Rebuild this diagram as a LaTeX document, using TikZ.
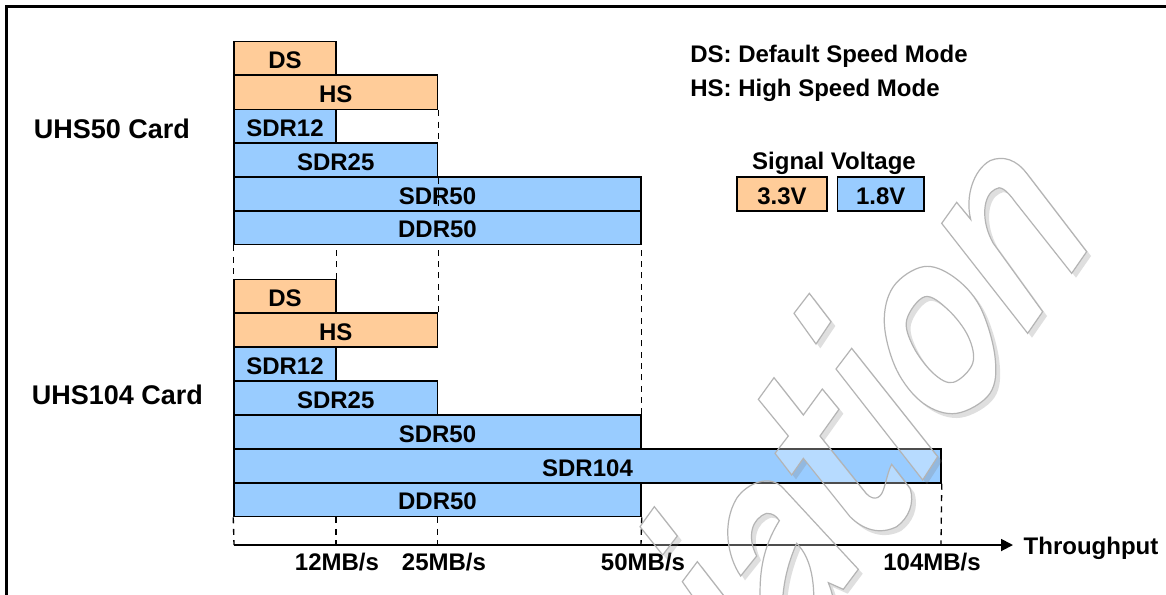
\documentclass[tikz,border=0pt]{standalone}
\usepackage{fontspec}
\setmainfont{Liberation Sans}
\usetikzlibrary{arrows.meta}
\definecolor{orangebar}{HTML}{FFCC99}
\definecolor{bluebar}{HTML}{99CCFF}
\definecolor{wmline}{HTML}{B4B4B4}
\tikzset{
  label18/.style={inner sep=0pt,text height=12.9pt,text depth=0pt,font=\bfseries\fontsize{18}{20}\selectfont,text=black},
  label20/.style={inner sep=0pt,text height=14.4pt,text depth=0pt,font=\bfseries\fontsize{20.25}{22}\selectfont,text=black},
  barbox/.style={draw=black,line width=1.1pt,inner sep=0pt,text height=15.1pt,text depth=0pt,font=\bfseries\fontsize{18}{20}\selectfont,text=black},
  orangebox/.style={barbox,fill=orangebar},
  bluebox/.style={barbox,fill=bluebar},
  dashline/.style={draw=black,line width=1pt,dash pattern=on 4.5pt off 4pt},
  axisline/.style={draw=black,line width=1.4pt,-{Triangle[length=9pt,width=9pt]}},
  framing/.style={draw=black,line width=1.6pt},
}
\newcommand{\barnode}[7]{\node[#1,minimum width={(#4-#3)*0.75pt},minimum height={(#6-#5)*0.75pt}] (#2) at ({(#3+#4)/2},{(#5+#6)/2}) {#7};}
\def\wmshape{
  (905,280) -- (950,217) -- (992,268) .. controls (975,200) and (1000,120) .. (1050,92) .. controls (1090,75) and (1130,90) .. (1160,130) -- (1340,365) -- (1295,430) -- (1125,215) .. controls (1100,180) and (1080,165) .. (1065,178) .. controls (1030,195) and (1020,270) .. (1060,340) -- (1208,545) -- (1163,610) -- cycle
  plot[smooth cycle,tension=.6] coordinates {(733,580) (760,470) (850,410) (940,440) (1020,530) (1065,680) (1050,790) (950,850) (850,820) (770,720)}
  plot[smooth cycle,tension=.6] coordinates {(800,570) (855,500) (925,540) (985,620) (998,700) (940,757) (880,730) (820,650)}
  (462,550) -- (508,490) -- (573,575) -- (528,642) -- cycle
  (588,717) -- (635,655) -- (893,980) -- (848,1050) -- cycle
  (355,808) -- (402,743) -- (490,855) -- (547,777) -- (597,838) -- (540,918) -- (670,1080) .. controls (695,1115) and (720,1110) .. (730,1080) .. controls (740,1050) and (745,1020) .. (755,1003) -- (810,1075) .. controls (825,1120) and (805,1165) .. (770,1190) .. controls (720,1215) and (670,1200) .. (630,1160) -- (490,985) -- (455,1035) -- (405,970) -- (445,918) -- cycle
  (302,1338) .. controls (262,1280) and (245,1180) .. (290,1105) .. controls (320,1060) and (390,1030) .. (430,1075) -- (655,1318) -- (610,1378) -- (565,1358) .. controls (590,1420) and (585,1460) .. (570,1500) -- (370,1500) .. controls (345,1340) and (370,1250) .. (418,1172) .. controls (410,1160) and (400,1150) .. (380,1150) .. controls (335,1165) and (320,1220) .. (350,1278) -- cycle
  (470,1240) .. controls (520,1290) and (530,1380) .. (515,1500) -- (430,1500) .. controls (420,1400) and (435,1320) .. (470,1240) -- cycle
  (43,1130) -- (112,1218) -- (68,1275) -- (0,1190) -- cycle
  (172,1295) -- (300,1460) -- (250,1530) -- (127,1355) -- cycle
}
\begin{document}
\begin{tikzpicture}[x=0.75pt,y=-0.75pt]
\useasboundingbox (0,0) rectangle (1166,594);
\clip (0,0) rectangle (1166,594);
\fill[white] (0,0) rectangle (1166,594);
\coordinate (fbl) at (6.5,600);
\coordinate (ftl) at (6.5,6.5);
\coordinate (ftr) at (1172,6.5);
\draw[framing] (fbl) -- (ftl) -- (ftr);
% group 1
\barnode{orangebox}{ds1}{234}{336}{41.5}{75}{DS}
\barnode{orangebox}{hs1}{234}{437.5}{75}{109.5}{HS}
\barnode{bluebox}{sdr12a}{234}{336}{109.5}{143}{SDR12}
\barnode{bluebox}{sdr25a}{234}{437.5}{143}{177}{SDR25}
\barnode{bluebox}{sdr50a}{234}{641}{177}{211}{SDR50}
\barnode{bluebox}{ddr50a}{234}{641}{211}{244.7}{DDR50}
% group 2
\barnode{orangebox}{ds2}{234}{336}{279.3}{313}{DS}
\barnode{orangebox}{hs2}{234}{437.5}{313}{347}{HS}
\barnode{bluebox}{sdr12b}{234}{336}{347}{381}{SDR12}
\barnode{bluebox}{sdr25b}{234}{437.5}{381}{415}{SDR25}
\barnode{bluebox}{sdr50b}{234}{641}{415}{449}{SDR50}
\barnode{bluebox}{sdr104}{234}{941}{449}{483}{SDR104}
\barnode{bluebox}{ddr50b}{234}{641}{483}{516.7}{DDR50}
% axis
\coordinate (t0) at (234,545);
\coordinate (t12) at (336,545);
\coordinate (t25) at (437.5,545);
\coordinate (t50) at (641,545);
\coordinate (t104) at (941,545);
\coordinate (tend) at (1013,545);
\draw[axisline] (t0) -- (tend);
% dashed guides
\draw[dashline] (hs1.south east) -- (sdr25a.north east);
\draw[dashline] (sdr25a.south east) -- (sdr25a.south east |- ddr50a.north);
\draw[dashline] (ddr50a.south west) -- (ds2.north west);
\draw[dashline] (ds2.north east) -- (ds2.north east |- ddr50a.south);
\draw[dashline] (hs2.north east) -- (hs2.north east |- ddr50a.south);
\draw[dashline] (sdr50b.north east) -- (ddr50a.south east);
\draw[dashline] (ddr50b.south west) -- (t0);
\draw[dashline] (t12 |- ddr50b.south) -- (t12);
\draw[dashline] (t25 |- ddr50b.south) -- (t25);
\draw[dashline] (ddr50b.south east) -- (t50);
\draw[dashline] (sdr104.south east) -- (t104);
% labels
\node[label20] (uhs50) at (112,128.5) {UHS50 Card};
\node[label20] (uhs104) at (117.5,394.5) {UHS104 Card};
\node[label18] (lds) at (690,54) [anchor=west] {DS: Default Speed Mode};
\node[label18] (lhs) at (690,88) [anchor=west] {HS: High Speed Mode};
\node[label18] (sv) at (834,160.5) {Signal Voltage};
\barnode{orangebox}{v33}{737}{827}{177}{211}{3.3V}
\barnode{bluebox}{v18}{837.5}{924}{177}{211}{1.8V}
\node[label18] (m12) at (337,561.5) {12MB/s};
\node[label18] (m25) at (444,561.5) {25MB/s};
\node[label18] (m50) at (643,561.5) {50MB/s};
\node[label18] (m104) at (932,562) {104MB/s};
\node[label18] (thr) at (1091,546) {Throughput};
% watermark
\begin{scope}[shift={(640,130)},x=0.25pt,y=-0.25pt]
  \begin{scope}[even odd rule]
    \clip (-3000,-1000) rectangle (3000,3000) \wmshape;
    \fill[gray,opacity=.25,shift={(13,13)}] \wmshape;
  \end{scope}
  \fill[white,opacity=.3,even odd rule] \wmshape;
  \draw[wmline,line width=.9pt] \wmshape;
\end{scope}
\end{tikzpicture}
\end{document}
